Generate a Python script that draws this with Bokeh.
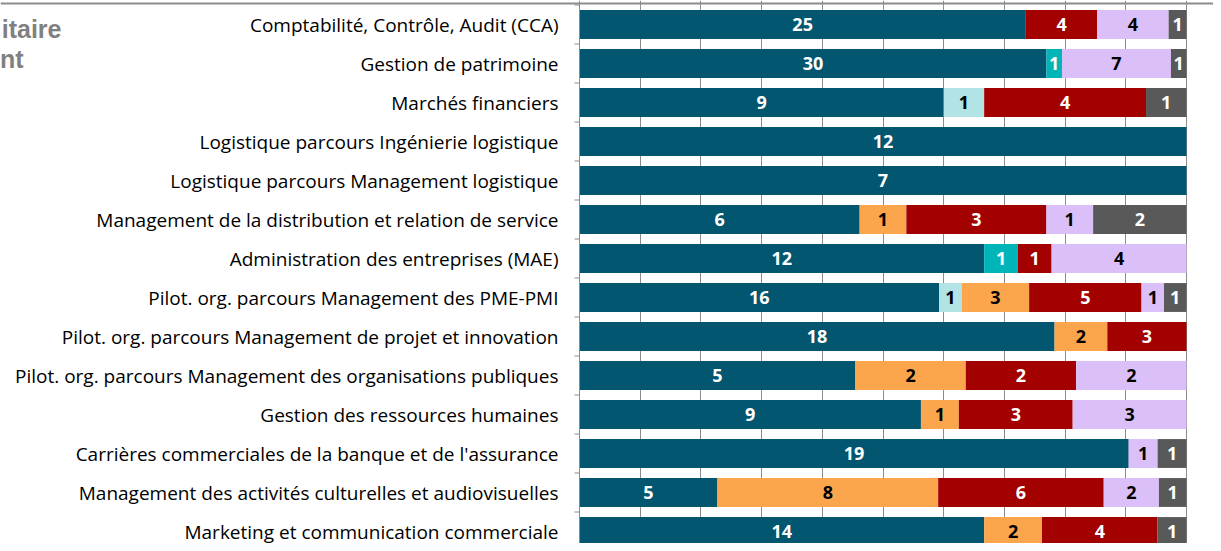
import math
from bokeh.plotting import figure
from bokeh.models import ColumnDataSource, Range1d, FixedTicker, Grid, Span
from bokeh.core.properties import value
from bokeh.embed import file_html
from bokeh.resources import INLINE

categories = [
    "Comptabilité, Contrôle, Audit (CCA)",
    "Gestion de patrimoine",
    "Marchés financiers",
    "Logistique parcours Ingénierie logistique",
    "Logistique parcours Management logistique",
    "Management de la distribution et relation de service",
    "Administration des entreprises (MAE)",
    "Pilot. org. parcours Management des PME-PMI",
    "Pilot. org. parcours Management de projet et innovation",
    "Pilot. org. parcours Management des organisations publiques",
    "Gestion des ressources humaines",
    "Carrières commerciales de la banque et de l'assurance",
    "Management des activités culturelles et audiovisuelles",
    "Marketing et communication commerciale",
]

s1 = [25, 30, 9, 12, 7, 6, 12, 16, 18, 5, 9, 19, 5, 14]
s2 = [0, 1, 0, 0, 0, 0, 1, 0, 0, 0, 0, 0, 0, 0]
s3 = [0, 0, 1, 0, 0, 0, 0, 1, 0, 0, 0, 0, 0, 0]
s4 = [0, 0, 0, 0, 0, 1, 0, 3, 2, 2, 1, 0, 8, 2]
s5 = [4, 0, 4, 0, 0, 3, 1, 5, 3, 2, 3, 0, 6, 4]
s6 = [4, 7, 0, 0, 0, 1, 4, 1, 0, 2, 3, 1, 2, 0]
s7 = [1, 1, 1, 0, 0, 2, 0, 1, 0, 0, 0, 1, 1, 1]

title_lines = ["itaire", "nt"]

series = [s1, s2, s3, s4, s5, s6, s7]
colors = ["#03566F", "#00B5B8", "#B2E3E5", "#FBA54C", "#A30000", "#DBBFF8", "#595959"]
label_colors = ["white", "white", "black", "black", "white", "black", "white"]

n = len(categories)
totals = [sum(s[i] for s in series) for i in range(n)]
ys = list(range(n))

# layout (pixels)
W, H = 1213, 543
X0, X1 = 579, 1186          # plot area left/right
Y0, PITCH = 24, 39.0        # centre of first row, row pitch
sx = X1 - X0
x_start, x_end = -X0 / sx, (W - X0) / sx
y_end, y_start = -Y0 / PITCH, (H - Y0) / PITCH

p = figure(width=W, height=H, output_backend="svg", toolbar_location=None,
           x_range=Range1d(x_start, x_end), y_range=Range1d(y_start, y_end),
           x_axis_location=None, y_axis_location=None,
           min_border_left=0, min_border_right=0, min_border_top=0, min_border_bottom=0)
p.outline_line_color = None
p.background_fill_color = "white"
p.border_fill_color = "white"
for g in list(p.grid):
    g.visible = False

grid = Grid(dimension=0, ticker=FixedTicker(ticks=[i / 10 for i in range(11)]),
            grid_line_color="#8C8C8C", grid_line_width=1)
p.add_layout(grid)

# category tick marks at row boundaries (outside, 5px)
bounds = [i - 0.5 for i in range(n + 1)]
p.ray(x=[0] * len(bounds), y=bounds, length=5, length_units="screen",
      angle=math.pi, line_color="#8C8C8C", line_width=1)

cum = [0.0] * n
for s, col, lc in zip(series, colors, label_colors):
    left = [cum[i] for i in range(n)]
    right = [cum[i] + s[i] / totals[i] for i in range(n)]
    cum = right
    src = ColumnDataSource(dict(y=ys, left=left, right=right))
    p.hbar(y="y", left="left", right="right", height=0.74, source=src,
           fill_color=col, line_color=None)
    idx = [i for i in range(n) if s[i] > 0]
    lsrc = ColumnDataSource(dict(
        x=[(left[i] + right[i]) / 2 for i in idx],
        y=[ys[i] for i in idx],
        t=[str(s[i]) for i in idx]))
    p.text(x="x", y="y", text="t", source=lsrc, text_color=lc,
           text_font=value("Open Sans"), text_font_style="bold",
           text_font_size="18px", text_align="center", text_baseline="middle")

# axis line
p.add_layout(Span(location=0, dimension="height", line_color="#8C8C8C", line_width=1))

# category labels
csrc = ColumnDataSource(dict(x=[0] * n, y=ys, t=categories))
p.text(x="x", y="y", text="t", source=csrc, x_offset=-21, text_align="right",
       text_baseline="middle", text_color="black",
       text_font=value("Open Sans"), text_font_size="19px")

# partial chart title (cropped in the original)
tsrc = ColumnDataSource(dict(
    x=[(61 - X0) / sx, (23 - X0) / sx],
    y=[(28 - Y0) / PITCH, (58 - Y0) / PITCH],
    t=title_lines))
p.text(x="x", y="y", text="t", source=tsrc, text_align="right",
       text_baseline="middle", text_color="#808080",
       text_font=value("Liberation Sans"), text_font_style="bold",
       text_font_size="25px")

# chart border line at top
p.add_layout(Span(location=(3 - Y0) / PITCH, dimension="width",
                  line_color="#8C8C8C", line_width=2))

open("out.html", "w").write(file_html(p, INLINE))
